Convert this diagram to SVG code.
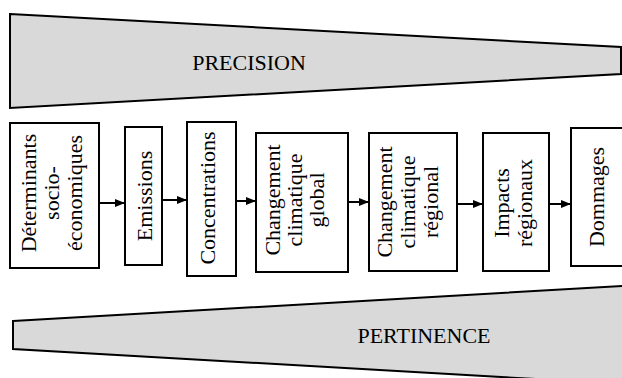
<svg xmlns="http://www.w3.org/2000/svg" width="622" height="378" viewBox="0 0 622 378">
<defs>
<style>
.banner{fill:#d9d9d9;stroke:#000;stroke-width:2;stroke-linejoin:miter}
.box{fill:#fff;stroke:#000;stroke-width:2}
.t{font-family:"Liberation Serif","Times New Roman",serif;font-size:22px;fill:#000;text-anchor:middle}
.bt{font-family:"Liberation Serif","Times New Roman",serif;font-size:22px;fill:#000;text-anchor:middle}
.c{stroke:#000;stroke-width:2;fill:none;marker-end:url(#ah)}
</style>
<marker id="ah" viewBox="0 0 10 8" refX="10" refY="4" markerWidth="10" markerHeight="8" markerUnits="userSpaceOnUse" orient="auto">
<path d="M0,0 L10,4 L0,8 Z" fill="#000"/>
</marker>
</defs>
<g id="precision">
<polygon class="banner" points="10,14 621,47 621,74 10,108"/>
<text class="bt" x="249" y="70">PRECISION</text>
</g>
<g id="pertinence">
<polygon class="banner" points="13,321 623,286 623,384 13,349"/>
<text class="bt" x="424" y="343">PERTINENCE</text>
</g>
<g id="n1">
<rect class="box" x="10" y="123" width="89" height="145"/>
<text class="t" transform="translate(36,193) rotate(-90)">Déterminants</text>
<text class="t" transform="translate(59,193) rotate(-90)">socio-</text>
<text class="t" transform="translate(82,193) rotate(-90)">économiques</text>
</g>
<g id="n2">
<rect class="box" x="125" y="127" width="37" height="138"/>
<text class="t" transform="translate(152,196) rotate(-90)">Emissions</text>
</g>
<g id="n3">
<rect class="box" x="187" y="122" width="49" height="154"/>
<text class="t" transform="translate(215,198) rotate(-90)">Concentrations</text>
</g>
<g id="n4">
<rect class="box" x="256" y="133" width="92" height="139"/>
<text class="t" transform="translate(280,200) rotate(-90)">Changement</text>
<text class="t" transform="translate(302,200) rotate(-90)">climatique</text>
<text class="t" transform="translate(324,200) rotate(-90)">global</text>
</g>
<g id="n5">
<rect class="box" x="369" y="133" width="88" height="138"/>
<text class="t" transform="translate(392,202) rotate(-90)">Changement</text>
<text class="t" transform="translate(415,202) rotate(-90)">climatique</text>
<text class="t" transform="translate(438,202) rotate(-90)">régional</text>
</g>
<g id="n6">
<rect class="box" x="483" y="133" width="66" height="138"/>
<text class="t" transform="translate(509,203) rotate(-90)">Impacts</text>
<text class="t" transform="translate(532,203) rotate(-90)">régionaux</text>
</g>
<g id="n7">
<rect class="box" x="571" y="128" width="60" height="138"/>
<text class="t" transform="translate(604,197) rotate(-90)">Dommages</text>
</g>
<g id="connectors">
<line class="c" x1="100" y1="203" x2="125" y2="203"/>
<line class="c" x1="163" y1="200" x2="187" y2="200"/>
<line class="c" x1="237" y1="201" x2="256" y2="201"/>
<line class="c" x1="349" y1="202" x2="369" y2="202"/>
<line class="c" x1="458" y1="204" x2="483" y2="204"/>
<line class="c" x1="550" y1="204" x2="571" y2="204"/>
</g>
</svg>
